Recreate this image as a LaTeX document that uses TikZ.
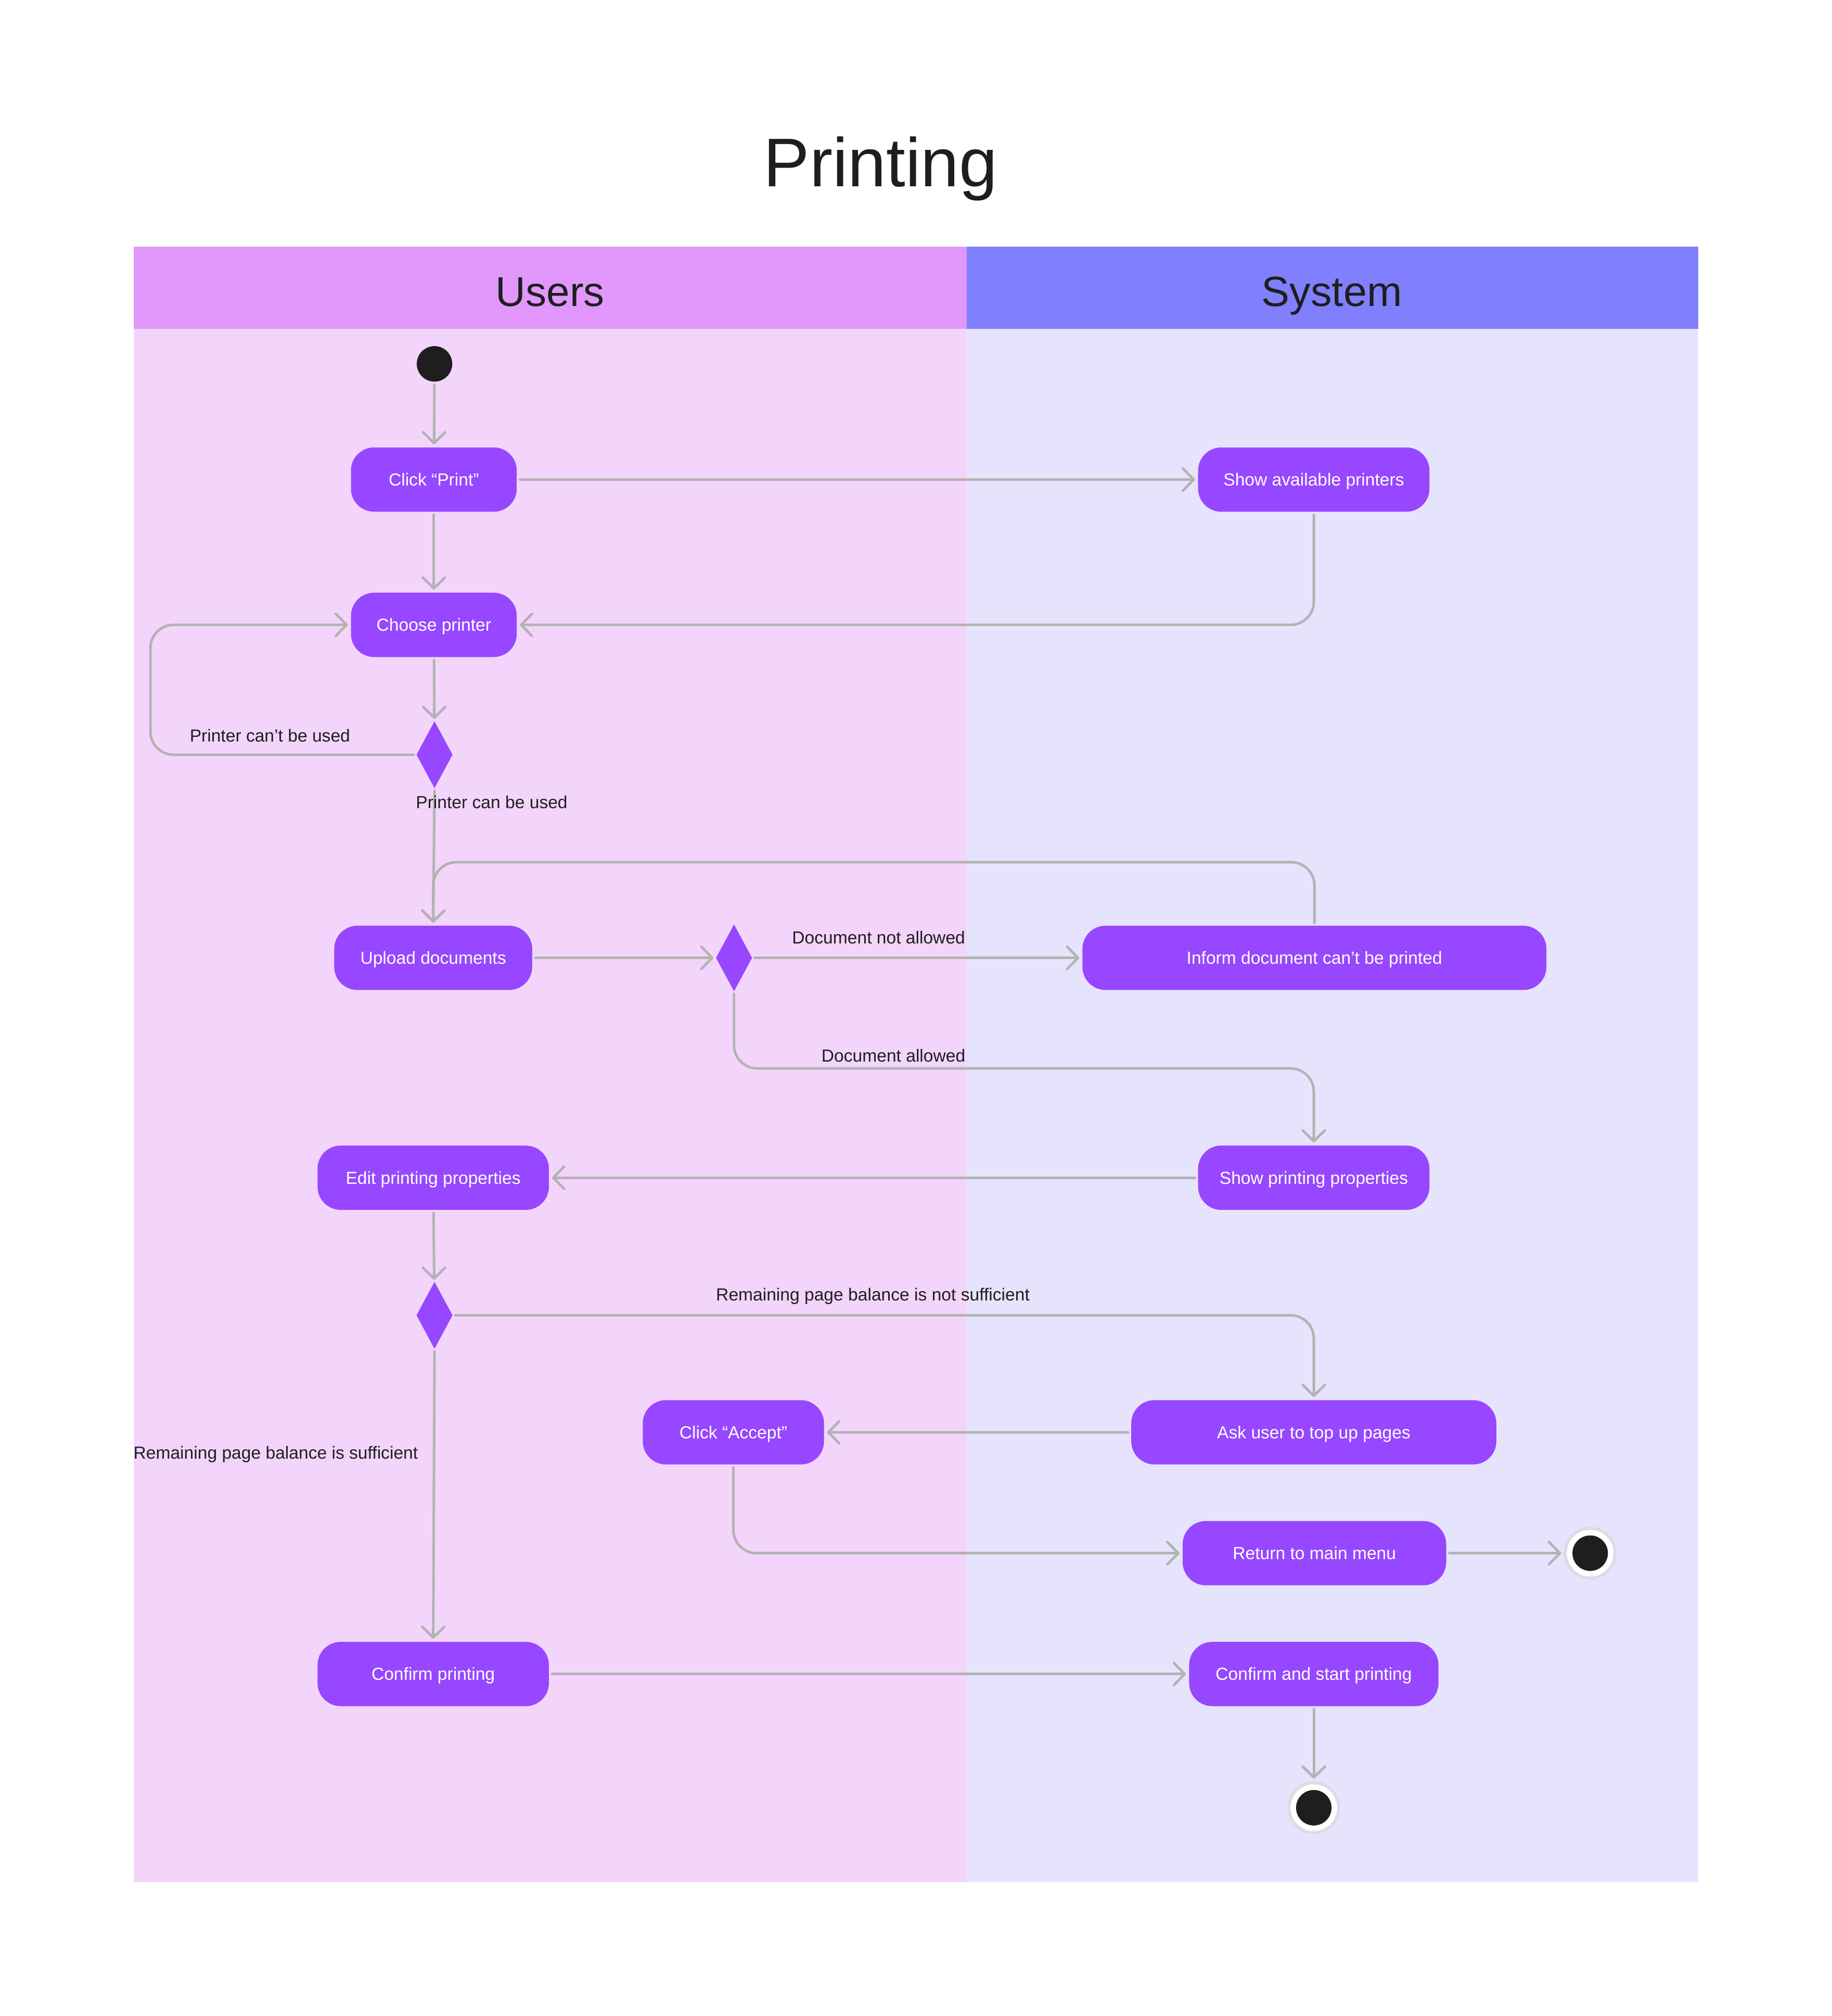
\documentclass[tikz,border=0pt]{standalone}
\usepackage{fontspec}
\setmainfont{Liberation Sans}
\usetikzlibrary{arrows.meta,shapes.geometric,calc}
\definecolor{uhead}{HTML}{E197FC}
\definecolor{ubody}{HTML}{F3D5FC}
\definecolor{shead}{HTML}{8080FF}
\definecolor{sbody}{HTML}{E6E4FD}
\definecolor{nodepurple}{HTML}{9747FF}
\definecolor{linegray}{HTML}{B3B3B3}
\definecolor{ringgray}{HTML}{DCDCE4}
\definecolor{dark}{HTML}{1E1E1E}
\begin{document}
\begin{tikzpicture}[x=0.5pt,y=-0.5pt,
  act/.style={rectangle, rounded corners=9pt, fill=nodepurple, text=white,
    font=\fontsize{6.8}{8}\selectfont, minimum height=25pt, inner sep=0pt,
    text height=4.9pt, text depth=0pt},
  decision/.style={diamond, fill=nodepurple, minimum width=14pt, minimum height=26pt,
    inner sep=0pt, outer sep=0pt},
  startst/.style={circle, fill=dark, minimum size=13.8pt, inner sep=0pt},
  endst/.style={circle, fill=white, draw=ringgray, line width=1.2pt, minimum size=19.4pt,
    inner sep=0pt, path picture={\fill[dark] (path picture bounding box.center) circle (6.9pt);}},
  lbl/.style={font=\fontsize{6.8}{8}\selectfont, text=dark, inner sep=0pt},
  flow/.style={draw=linegray, line width=1pt, line cap=round, rounded corners=9pt,
    -{Straight Barb[length=4.2pt,width=8.6pt,line width=1pt,round]},
    shorten >=1pt, shorten <=1pt}
]
\useasboundingbox (0,0) rectangle (1425,1568);
\fill[white] (0,0) rectangle (1425,1568);
% lanes
\fill[ubody] (104,256) rectangle (752,1464);
\fill[sbody] (752,256) rectangle (1321,1464);
\fill[uhead] (104,192) rectangle (752,256);
\fill[shead] (752,192) rectangle (1321,256);
\node[font=\fontsize{26.8}{30}\selectfont, text=dark, inner sep=0pt, anchor=base] (title) at (685,145) {Printing};
\node[font=\fontsize{16.2}{19}\selectfont, text=dark, inner sep=0pt, anchor=base] (users) at (428,238) {Users};
\node[font=\fontsize{16.4}{19}\selectfont, text=dark, inner sep=0pt, anchor=base] (system) at (1036,238) {System};

% nodes
\node[startst] (start) at (338,283) {};
\node[act, minimum width=64.5pt] (click) at (337.5,373) {Click “Print”};
\node[act, minimum width=90pt] (sap) at (1022,373) {Show available printers};
\node[act, minimum width=64.5pt] (choose) at (337.5,486) {Choose printer};
\node[decision] (d1) at (338,587) {};
\node[act, minimum width=77pt] (upload) at (337,745) {Upload documents};
\node[decision] (d2) at (571,745) {};
\node[act, minimum width=180.5pt] (inform) at (1022.5,745) {Inform document can’t be printed};
\node[act, minimum width=90pt] (spp) at (1022,916) {Show printing properties};
\node[act, minimum width=90pt] (epp) at (337,916) {Edit printing properties};
\node[decision] (d3) at (338,1023) {};
\node[act, minimum width=142pt] (ask) at (1022,1114) {Ask user to top up pages};
\node[act, minimum width=70.5pt] (accept) at (570.5,1114) {Click “Accept”};
\node[act, minimum width=102.5pt] (ret) at (1022.5,1208) {Return to main menu};
\node[endst] (end1) at (1237,1208) {};
\node[act, minimum width=90pt] (confirm) at (337,1302) {Confirm printing};
\node[act, minimum width=97pt] (cstart) at (1022,1302) {Confirm and start printing};
\node[endst] (end2) at (1022,1406) {};

\coordinate (loopL) at (117,587);

% connectors
\draw[flow] (start) -- (click);
\draw[flow] (click) -- (sap);
\draw[flow] (click) -- (choose);
\draw[flow] (sap.south) |- (choose.east);
\draw[flow] (choose) -- (d1);
\draw[flow] (d1.west) -- (loopL) |- (choose.west);
\draw[flow] (d1.south) -- (upload.north);
\draw[flow] (inform.north) -- ++(0,-49) -| (upload.north);
\draw[flow] (upload) -- (d2);
\draw[flow] (d2) -- (inform);
\draw[flow] (d2.south) -- ++(0,60) -| (spp.north);
\draw[flow] (spp) -- (epp);
\draw[flow] (epp) -- (d3);
\draw[flow] (d3.east) -| (ask.north);
\draw[flow] (ask) -- (accept);
\draw[flow] (accept.south) |- (ret.west);
\draw[flow] (ret) -- (end1);
\draw[flow] (d3.south) -- (confirm.north);
\draw[flow] (confirm) -- (cstart);
\draw[flow] (cstart) -- (end2);

% labels
\node[lbl] (l1) at (210,572) {Printer can’t be used};
\node[lbl] (l2) at (382.5,624) {Printer can be used};
\node[lbl] (l3) at (683.5,729) {Document not allowed};
\node[lbl] (l4) at (695,821) {Document allowed};
\node[lbl] (l5) at (679,1008) {Remaining page balance is not sufficient};
\node[lbl] (l6) at (214.5,1131) {Remaining page balance is sufficient};
\end{tikzpicture}
\end{document}
